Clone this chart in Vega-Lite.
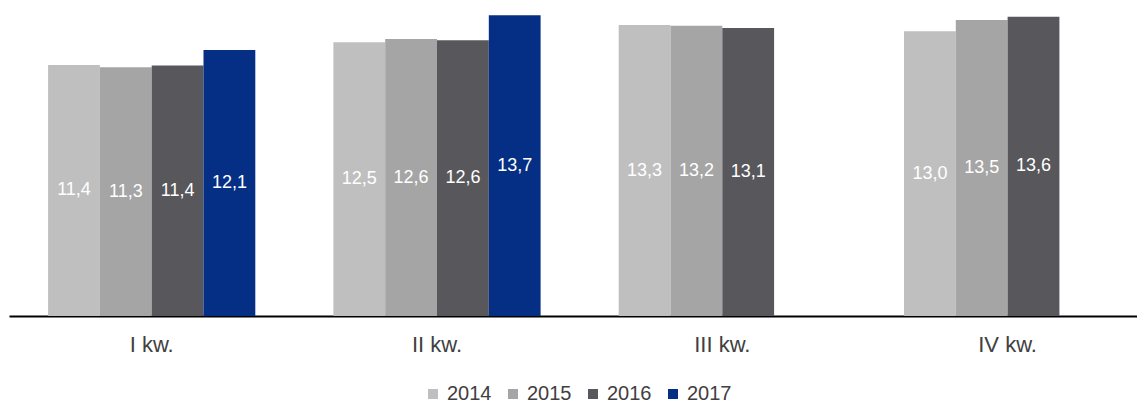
{
  "$schema": "https://vega.github.io/schema/vega-lite/v6.json",
  "width": 1128,
  "height": 316,
  "autosize": {"type": "none"},
  "padding": {"left": 9, "top": 0, "right": 0, "bottom": 87},
  "background": "white",
  "config": {
    "view": {"stroke": null},
    "font": "Liberation Sans",
    "locale": {"number": {"decimal": ",", "thousands": " ", "grouping": [3], "currency": ["", " zł"]}}
  },
  "data": {
    "values": [
      {"kw": "I kw.", "rok": "2014", "v": 11.44},
      {"kw": "I kw.", "rok": "2015", "v": 11.34},
      {"kw": "I kw.", "rok": "2016", "v": 11.42},
      {"kw": "I kw.", "rok": "2017", "v": 12.12},
      {"kw": "II kw.", "rok": "2014", "v": 12.48},
      {"kw": "II kw.", "rok": "2015", "v": 12.62},
      {"kw": "II kw.", "rok": "2016", "v": 12.57},
      {"kw": "II kw.", "rok": "2017", "v": 13.71},
      {"kw": "III kw.", "rok": "2014", "v": 13.26},
      {"kw": "III kw.", "rok": "2015", "v": 13.23},
      {"kw": "III kw.", "rok": "2016", "v": 13.12},
      {"kw": "IV kw.", "rok": "2014", "v": 12.98},
      {"kw": "IV kw.", "rok": "2015", "v": 13.49},
      {"kw": "IV kw.", "rok": "2016", "v": 13.64}
    ]
  },
  "encoding": {
    "x": {
      "field": "kw", "type": "nominal", "sort": null,
      "scale": {"paddingInner": 0.2737, "paddingOuter": 0.1137, "align": 0.6025},
      "axis": {
        "title": null, "labelAngle": 0, "ticks": false, "labelPadding": 18,
        "labelFontSize": 22, "labelColor": "#404040", "labelFont": "Liberation Sans",
        "domainColor": "#000000", "domainWidth": 2, "grid": false
      }
    },
    "xOffset": {"field": "rok", "type": "nominal", "scale": {"domain": ["2014", "2015", "2016", "2017"], "paddingInner": 0, "paddingOuter": 0}}
  },
  "layer": [
    {
      "mark": {"type": "bar"},
      "encoding": {
        "y": {
          "field": "v", "type": "quantitative",
          "scale": {"domain": [0, 14.4], "nice": false, "zero": true},
          "axis": null
        },
        "color": {
          "field": "rok", "type": "nominal",
          "scale": {"domain": ["2014", "2015", "2016", "2017"], "range": ["#BFBFBF", "#A5A5A5", "#58575B", "#052F85"]},
          "legend": {
            "title": null, "orient": "none", "direction": "horizontal",
            "legendX": 414, "legendY": 384, "symbolType": "square", "symbolSize": 100,
            "symbolStrokeWidth": 0, "labelFontSize": 20, "labelColor": "#404040",
            "labelFont": "Liberation Sans", "labelOffset": 4, "columnPadding": 11, "padding": 0
          }
        }
      }
    },
    {
      "transform": [{"calculate": "datum.v / 2", "as": "mid"}],
      "mark": {"type": "text", "color": "white", "fontSize": 18, "font": "Liberation Sans", "baseline": "middle"},
      "encoding": {
        "y": {"field": "mid", "type": "quantitative", "scale": {"domain": [0, 14.4], "nice": false}, "axis": null},
        "text": {"field": "v", "type": "quantitative", "format": ".1f"}
      }
    }
  ]
}
